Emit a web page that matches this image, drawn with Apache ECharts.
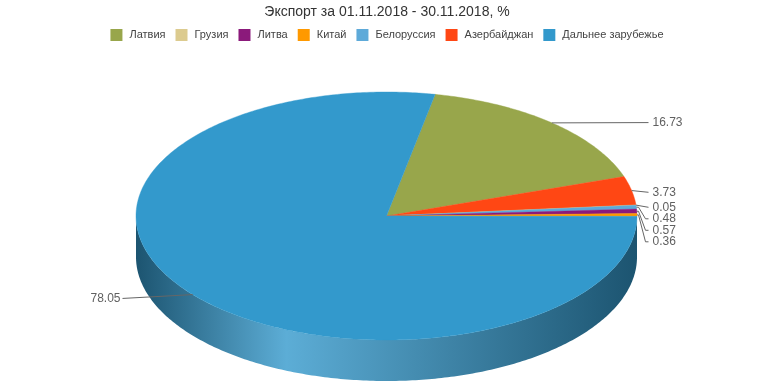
<!DOCTYPE html>
<html><head><meta charset="utf-8">
<script src="https://cdn.jsdelivr.net/npm/echarts@6/dist/echarts.min.js"></script>
<style>html,body{margin:0;padding:0;background:#fff}#c{width:774px;height:387px}</style>
</head><body><div id="c"></div>
<script>
// ---- data ----
const titleText = 'Экспорт за 01.11.2018 - 30.11.2018, %';
const legendOrder = ['Латвия', 'Грузия', 'Литва', 'Китай', 'Белоруссия', 'Азербайджан', 'Дальнее зарубежье'];
const sliceNames = ['Латвия', 'Азербайджан', 'Грузия', 'Белоруссия', 'Литва', 'Китай', 'Дальнее зарубежье'];
const sliceValues = [16.73, 3.73, 0.05, 0.48, 0.57, 0.36, 78.05];

// ---- styles ----
const sliceColors = {
  'Латвия': '#98a64b',
  'Грузия': '#dccb8f',
  'Литва': '#8b1a7b',
  'Китай': '#ff9900',
  'Белоруссия': '#5eaad9',
  'Азербайджан': '#ff4714',
  'Дальнее зарубежье': '#3399cc'
};
const FONT = '"Liberation Sans", Arial, sans-serif';
const CX = 386.5, CY = 216, RX = 250.5, RY = 124, DEPTH = 41, START = 11.2;

function pt(deg, dy, k) {
  dy = dy || 0; k = k || 1;
  const r = deg * Math.PI / 180;
  return [CX + RX * k * Math.sin(r), CY - RY * k * Math.cos(r) + dy];
}
function hexRgb(h) { h = h.replace('#', ''); return [0, 2, 4].map(i => parseInt(h.substr(i, 2), 16)); }
function shade(h, f) { const c = hexRgb(h); return 'rgb(' + c.map(v => Math.round(v * f)).join(',') + ')'; }
function tint(h, f) { const c = hexRgb(h); return 'rgb(' + c.map(v => Math.round(v + (255 - v) * f)).join(',') + ')'; }

// slice geometry + label layout derived from the data arrays
const total = sliceValues.reduce((a, b) => a + b, 0);
let acc = 0;
const info = sliceValues.map((v, i) => {
  const a0 = START + acc / total * 360; acc += v;
  const a1 = START + acc / total * 360;
  const mid = (a0 + a1) / 2;
  const m = ((mid % 360) + 360) % 360;
  const right = m < 180;
  return { a0, a1, mid, right, edge: pt(mid), y: pt(mid, 0, 1.03)[1] + (right ? 2.5 : 1.5) };
});
(function spread() {
  const r = info.map((o, i) => i).filter(i => info[i].right).sort((a, b) => info[a].y - info[b].y);
  for (let k = 1; k < r.length; k++) info[r[k]].y = Math.max(info[r[k]].y, info[r[k - 1]].y + 11.5);
  const l = info.map((o, i) => i).filter(i => !info[i].right).sort((a, b) => info[a].y - info[b].y);
  for (let k = 1; k < l.length; k++) info[l[k]].y = Math.max(info[l[k]].y, info[l[k - 1]].y + 11.5);
})();

function arc(a0, a1, dy) {
  const n = Math.max(2, Math.ceil((a1 - a0) / 0.75));
  const p = [];
  for (let k = 0; k <= n; k++) p.push(pt(a0 + (a1 - a0) * k / n, dy));
  return p;
}

function buildSlice(i, value) {
  const o = info[i];
  const color = sliceColors[sliceNames[i]];
  const children = [];
  // front side wall (visible between 90° and 270°)
  const s0 = Math.max(o.a0, 90), s1 = Math.min(o.a1, 270);
  if (s1 > s0) {
    const pts = arc(s0, s1, 0).concat(arc(s0, s1, DEPTH).reverse());
    children.push({
      type: 'polygon', z2: 1, shape: { points: pts },
      style: {
        fill: new echarts.graphic.LinearGradient(1, 0, 0, 0, [
          { offset: 0, color: shade(color, 0.55) },
          { offset: 0.7, color: tint(color, 0.2) },
          { offset: 1, color: shade(color, 0.55) }
        ]),
        stroke: null
      }
    });
  }
  // top face
  children.push({
    type: 'polygon', z2: 2, shape: { points: [[CX, CY]].concat(arc(o.a0, o.a1, 0)) },
    style: { fill: color, stroke: color, lineWidth: 0.4 }
  });
  // connector + label
  const endX = o.right ? CX + RX + 11.5 : CX - RX - 13.5;
  const txtX = o.right ? CX + RX + 15.5 : CX - RX - 15.5;
  let line;
  if (Math.abs(o.y - o.edge[1]) < 4) line = [o.edge, [endX, o.y]];
  else {
    const d = o.right ? 1 : -1;
    line = [o.edge, [endX - d * 10, o.edge[1]], [endX - d * 3, o.y], [endX, o.y]];
  }
  children.push({ type: 'polyline', z2: 3, shape: { points: line }, style: { stroke: '#666666', lineWidth: 1, fill: null } });
  children.push({
    type: 'text', z2: 3, x: txtX, y: o.y,
    style: { text: value.toFixed(2), fill: '#606060', font: '12px ' + FONT, align: o.right ? 'left' : 'right', verticalAlign: 'middle' }
  });
  return { type: 'group', children };
}

const chart = echarts.init(document.getElementById('c'), null, { renderer: 'canvas' });
chart.setOption({
  animation: false,
  backgroundColor: '#ffffff',
  title: {
    text: titleText, left: 'center', top: 5, padding: 0,
    textStyle: { fontSize: 14, fontWeight: 'normal', color: '#333333', fontFamily: FONT }
  },
  legend: {
    data: legendOrder, top: 29, left: 'center', padding: 0,
    icon: 'rect', itemWidth: 12, itemHeight: 12, itemGap: 10,
    textStyle: { fontSize: 11, color: '#444444', fontFamily: FONT, padding: [0, 0, 0, 2] }
  },
  series: sliceNames.map((name, i) => ({
    type: 'custom', name: name, coordinateSystem: 'none',
    data: [sliceValues[i]],
    itemStyle: { color: sliceColors[name] },
    renderItem: (params, api) => buildSlice(i, api.value(0))
  }))
});
</script>
</body></html>
